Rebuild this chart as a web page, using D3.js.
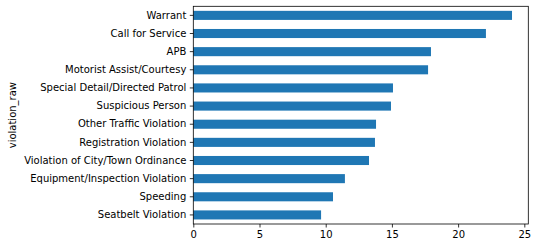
<!DOCTYPE html>
<html><head><meta charset="utf-8">
<script src="https://cdn.jsdelivr.net/npm/d3@7"></script>
<style>body{margin:0;background:#fff}svg{display:block}text{font-family:"DejaVu Sans",sans-serif}</style>
</head><body><svg id="c" width="537" height="248"></svg>
<script>
const categories = ["Warrant","Call for Service","APB","Motorist Assist/Courtesy","Special Detail/Directed Patrol","Suspicious Person","Other Traffic Violation","Registration Violation","Violation of City/Town Ordinance","Equipment/Inspection Violation","Speeding","Seatbelt Violation"];
const values = [24.07, 22.1, 17.95, 17.73, 15.08, 14.93, 13.8, 13.72, 13.27, 11.45, 10.55, 9.65];
const xTicks = [0,5,10,15,20,25];
const yLabel = "violation_raw";

const svg = d3.select("#c");
const L = 193.3, R = 528.3, T = 6.3, B = 224;
const x = d3.scaleLinear().domain([0, 25.3]).range([L, R]);
const y = d3.scaleBand().domain(categories).range([T, B]).paddingInner(0.5).paddingOuter(0.25);

svg.append("g").selectAll("rect").data(values).enter().append("rect")
  .attr("x", x(0)).attr("y", (d,i)=>y(categories[i]))
  .attr("width", d=>x(d)-x(0)).attr("height", y.bandwidth())
  .attr("fill", "#1f77b4");

const ax = svg.append("g").attr("transform", `translate(0,${B})`)
  .call(d3.axisBottom(x).tickValues(xTicks).tickSize(3.5).tickPadding(3.5).tickFormat(d3.format("d")));
const ay = svg.append("g").attr("transform", `translate(${L},0)`)
  .call(d3.axisLeft(y).tickSize(3.5).tickPadding(3.5));
[ax, ay].forEach(g=>{
  g.select(".domain").remove();
  g.selectAll("line").attr("stroke","#000").attr("stroke-width",0.8);
  g.selectAll("text").attr("font-size",10).attr("fill","#000").style("font-family","DejaVu Sans");
});

svg.append("rect").attr("x",L).attr("y",T).attr("width",R-L).attr("height",B-T)
  .attr("fill","none").attr("stroke","#000").attr("stroke-width",0.8);

svg.append("text").attr("transform",`translate(16,${(T+B)/2}) rotate(-90)`)
  .attr("text-anchor","middle").attr("font-size",10).attr("fill","#000").text(yLabel);
</script></body></html>
